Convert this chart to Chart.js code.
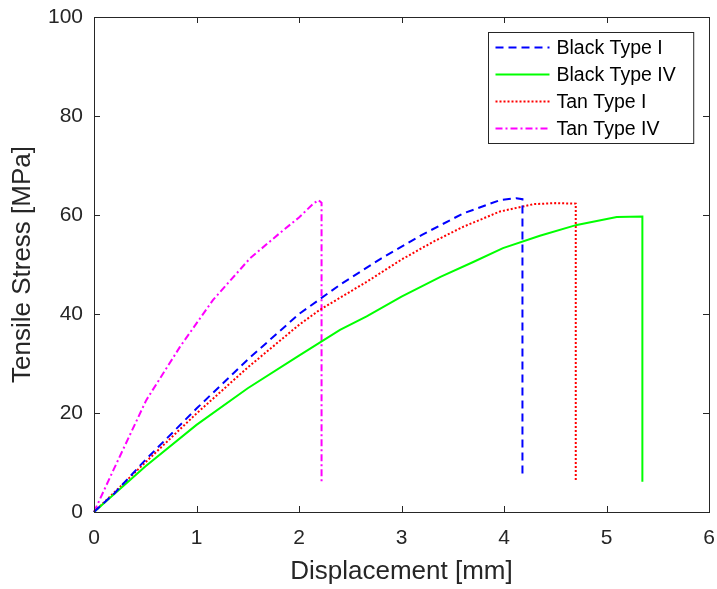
<!DOCTYPE html>
<html>
<head>
<meta charset="utf-8">
<title>Tensile Stress vs Displacement</title>
<script src="https://cdn.jsdelivr.net/npm/chart.js@4/dist/chart.umd.min.js"></script>
<style>
  html, body { margin: 0; padding: 0; background: #fff; }
  canvas { display: block; }
</style>
</head>
<body>
<canvas id="grafico" width="717" height="589"></canvas>
<script>
// displacement [mm] and tensile stress [MPa] for each specimen
var blackTypeIX  = [0, 0.2, 0.5, 1.0, 1.5, 2.0, 2.4, 2.8, 3.2, 3.6, 3.96, 4.12, 4.18, 4.18];
var blackTypeIY  = [0, 3.8, 10.5, 20.9, 30.8, 40.0, 45.9, 51.2, 56.0, 60.3, 63.0, 63.4, 63.2, 6.8];

var blackTypeIVX = [0, 0.5, 1.0, 1.5, 2.0, 2.4, 2.66, 3.0, 3.38, 3.7, 3.99, 4.35, 4.71, 5.1, 5.35, 5.35];
var blackTypeIVY = [0, 9.2, 17.6, 25.0, 31.6, 36.8, 39.5, 43.5, 47.5, 50.5, 53.3, 55.8, 58.0, 59.6, 59.7, 6.1];

var tanTypeIX    = [0, 0.5, 1.0, 1.5, 2.0, 2.2, 2.66, 3.0, 3.31, 3.6, 3.96, 4.29, 4.5, 4.7, 4.7];
var tanTypeIY    = [0, 10.0, 19.9, 29.2, 37.8, 40.8, 46.5, 51.0, 54.6, 57.6, 60.7, 62.2, 62.4, 62.3, 6.1];

var tanTypeIVX   = [0, 0.19, 0.51, 0.84, 1.16, 1.52, 1.81, 2.0, 2.14, 2.19, 2.22, 2.22];
var tanTypeIVY   = [0, 8.5, 22.6, 33.4, 42.8, 51.2, 56.3, 59.5, 62.3, 63.0, 62.5, 5.8];

var nomi = ['Black Type I', 'Black Type IV', 'Tan Type I', 'Tan Type IV'];
var xTicks = [0, 1, 2, 3, 4, 5, 6];
var yTicks = [0, 20, 40, 60, 80, 100];

var FONT = '"Liberation Sans", Arial, Helvetica, sans-serif';
var INK = '#262626';

function punti(xs, ys) {
  return xs.map(function (x, i) { return { x: x, y: ys[i] }; });
}

function serie(label, xs, ys, colore, tratteggio) {
  return {
    label: label,
    data: punti(xs, ys),
    borderColor: colore,
    backgroundColor: colore,
    borderWidth: 2,
    borderDash: tratteggio,
    pointRadius: 0,
    tension: 0,
    fill: false,
    clip: 4
  };
}

// no extra room for the edge labels: the plot box is fixed by the layout padding
function senzaPadding(s) {
  s.paddingTop = 0;
  s.paddingBottom = 0;
  s.paddingLeft = 0;
  s.paddingRight = 0;
}

// box round the plot with inward ticks on all four sides
var scatola = {
  id: 'scatola',
  afterDraw: function (chart) {
    var ctx = chart.ctx;
    var a = chart.chartArea;
    var sx = chart.scales.x, sy = chart.scales.y;
    var L = 6;
    ctx.save();
    ctx.strokeStyle = INK;
    ctx.lineWidth = 1;
    ctx.beginPath();
    sx.ticks.forEach(function (t) {
      var px = Math.round(sx.getPixelForValue(t.value)) + 0.5;
      ctx.moveTo(px, a.bottom); ctx.lineTo(px, a.bottom - L);
      ctx.moveTo(px, a.top); ctx.lineTo(px, a.top + L);
    });
    sy.ticks.forEach(function (t) {
      var py = Math.round(sy.getPixelForValue(t.value)) + 0.5;
      ctx.moveTo(a.left, py); ctx.lineTo(a.left + L, py);
      ctx.moveTo(a.right, py); ctx.lineTo(a.right - L, py);
    });
    ctx.stroke();
    ctx.strokeRect(Math.round(a.left) + 0.5, Math.round(a.top) + 0.5,
      Math.round(a.right - a.left), Math.round(a.bottom - a.top));
    ctx.restore();
  }
};

// legend in the upper right corner, with line samples
var legenda = {
  id: 'legenda',
  afterDraw: function (chart) {
    var ctx = chart.ctx;
    var a = chart.chartArea;
    var ds = chart.data.datasets;
    ctx.save();
    ctx.font = '19.5px ' + FONT;
    var maxW = 0;
    ds.forEach(function (d) { maxW = Math.max(maxW, ctx.measureText(d.label).width); });
    var riga = 27;
    var w = 68 + maxW + 18;
    var h = riga * ds.length + 3;
    var x0 = Math.round(a.right - 16 - w) + 0.5;
    var y0 = Math.round(a.top + 15) + 0.5;
    ctx.fillStyle = '#fff';
    ctx.fillRect(x0, y0, w, h);
    ctx.strokeStyle = INK;
    ctx.lineWidth = 1;
    ctx.strokeRect(x0, y0, w, h);
    ds.forEach(function (d, i) {
      var cy = y0 + 15 + i * riga;
      ctx.strokeStyle = d.borderColor;
      ctx.lineWidth = 2;
      ctx.setLineDash(d.borderDash || []);
      ctx.beginPath();
      ctx.moveTo(x0 + 7, cy);
      ctx.lineTo(x0 + 61, cy);
      ctx.stroke();
      ctx.setLineDash([]);
      ctx.fillStyle = '#000';
      ctx.textBaseline = 'middle';
      ctx.textAlign = 'left';
      ctx.fillText(d.label, x0 + 68, cy + 1);
    });
    ctx.restore();
  }
};

var grafico = new Chart(document.getElementById('grafico').getContext('2d'), {
  type: 'line',
  data: {
    datasets: [
      serie(nomi[0], blackTypeIX, blackTypeIY, '#0000ff', [8, 5]),
      serie(nomi[1], blackTypeIVX, blackTypeIVY, '#00ff00', []),
      serie(nomi[2], tanTypeIX, tanTypeIY, '#ff0000', [2, 2]),
      serie(nomi[3], tanTypeIVX, tanTypeIVY, '#ff00ff', [7, 3, 2, 3])
    ]
  },
  options: {
    responsive: false,
    animation: false,
    layout: { padding: { top: 17, right: 8, left: 0, bottom: 0 } },
    plugins: {
      legend: { display: false },
      tooltip: { enabled: false }
    },
    scales: {
      x: {
        type: 'linear',
        min: 0,
        max: 6,
        afterBuildTicks: function (s) { s.ticks = xTicks.map(function (v) { return { value: v }; }); },
        afterFit: function (s) { s.height = 77; senzaPadding(s); },
        grid: { display: false, drawTicks: false },
        border: { display: false },
        ticks: { color: INK, font: { family: FONT, size: 21 }, padding: 14, maxRotation: 0 },
        title: {
          display: true,
          text: 'Displacement [mm]',
          color: INK,
          font: { family: FONT, size: 26 },
          padding: { top: 0, bottom: 2 }
        }
      },
      y: {
        type: 'linear',
        min: 0,
        max: 100,
        afterBuildTicks: function (s) { s.ticks = yTicks.map(function (v) { return { value: v }; }); },
        afterFit: function (s) { s.width = 94; senzaPadding(s); },
        grid: { display: false, drawTicks: false },
        border: { display: false },
        ticks: { color: INK, font: { family: FONT, size: 21 }, padding: 11 },
        title: {
          display: true,
          text: 'Tensile Stress [MPa]',
          color: INK,
          font: { family: FONT, size: 26 },
          padding: { top: 7, bottom: 0 }
        }
      }
    }
  },
  plugins: [scatola, legenda]
});
</script>
</body>
</html>
